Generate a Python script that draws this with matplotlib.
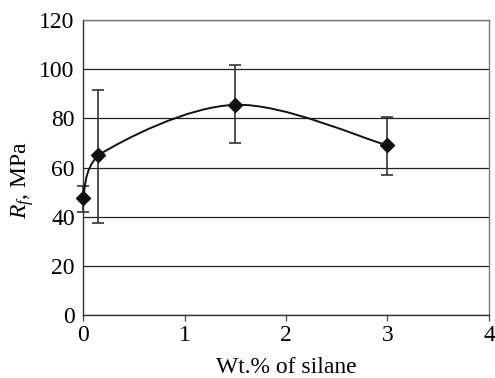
import matplotlib
matplotlib.use('Agg')
import matplotlib.pyplot as plt
from matplotlib.path import Path
from matplotlib.patches import PathPatch
import numpy as np

plt.rcParams['font.family'] = ['Liberation Serif', 'DejaVu Serif']
plt.rcParams['mathtext.fontset'] = 'custom'
plt.rcParams['mathtext.rm'] = 'Liberation Serif'
plt.rcParams['mathtext.it'] = 'Liberation Serif:italic'

# data
silane = [0, 0.15, 1.5, 3]
rf = [47.5, 65, 85.5, 69]
err_low = [42, 37.5, 70, 57]
err_high = [52.5, 91.5, 101.5, 80.5]

x_ticks = [0, 1, 2, 3, 4]
y_ticks = [0, 20, 40, 60, 80, 100, 120]

fig = plt.figure(figsize=(4.95, 3.78), dpi=100)
ax = fig.add_axes([83/495, 1-315/378, (489-83)/495, (315-20)/378])

# smoothed line like a spreadsheet chart (bezier through the points)
pts = np.column_stack([silane, rf]).astype(float)
n = len(pts)
verts = [pts[0]]
codes = [Path.MOVETO]
for i in range(n-1):
    p0 = pts[max(i-1, 0)]
    p1 = pts[i]
    p2 = pts[i+1]
    p3 = pts[min(i+2, n-1)]
    c1 = p1 + (p2 - p0)/6
    c2 = p2 - (p3 - p1)/6
    # keep control points inside the segment's x range
    c1[0] = np.clip(c1[0], p1[0], p2[0])
    c2[0] = np.clip(c2[0], p1[0], p2[0])
    verts += [c1, c2, p2]
    codes += [Path.CURVE4]*3
ax.add_patch(PathPatch(Path(verts, codes), fill=False, edgecolor='#111111', lw=1.4, zorder=3))

yerr = [np.array(rf)-np.array(err_low), np.array(err_high)-np.array(rf)]
eb = ax.errorbar(silane, rf, yerr=yerr, fmt='none', ecolor='#333333', elinewidth=1.2,
                 capsize=4.5, capthick=1.2, zorder=2)
for art in eb.lines[1] + eb.lines[2]:
    art.set_clip_on(False)
ax.plot(silane, rf, ls='none', marker='D', ms=7.5, color='#111111', zorder=4, clip_on=False)

ax.set_xlim(0, 4)
ax.set_ylim(0, 120)
ax.set_xticks(x_ticks)
ax.set_yticks(y_ticks)
ax.yaxis.grid(True, color='#222222', lw=0.9)
ax.set_axisbelow(True)
ax.tick_params(axis='x', direction='out', length=4, width=0.9, color='#444444', labelsize=17, pad=3)
ax.tick_params(axis='y', length=0, labelsize=17, pad=6)
for s in ['left', 'bottom']:
    ax.spines[s].set_color('#333333')
    ax.spines[s].set_linewidth(1.0)
for s in ['top', 'right']:
    ax.spines[s].set_color('#777777')
    ax.spines[s].set_linewidth(1.0)

ax.set_xlabel('Wt.% of silane', fontsize=17)
ax.xaxis.set_label_coords(0.5, -(357-315)/295)
ax.set_ylabel('$R_{f}$, MPa', fontsize=17)
ax.yaxis.set_label_coords(-(83-36)/406, (315-180)/295)

fig.savefig('out.png', dpi=100)
